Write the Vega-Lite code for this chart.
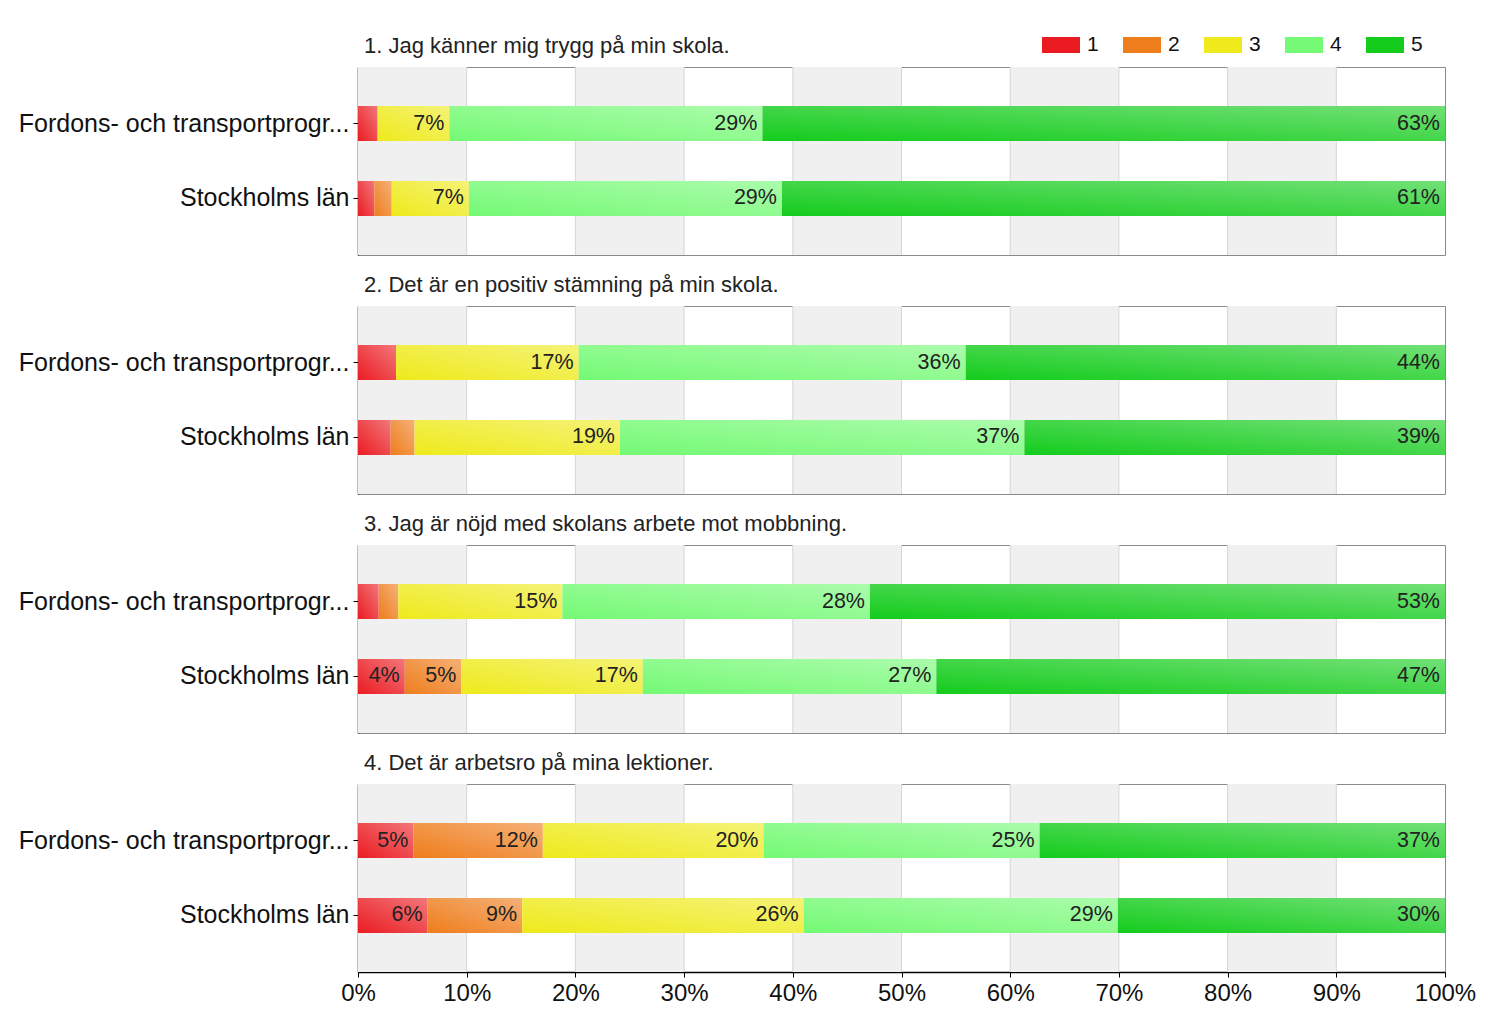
{
  "$schema": "https://vega.github.io/schema/vega-lite/v6.json",
  "padding": {"left": 17, "top": 26, "right": 0, "bottom": 0},
  "background": "white",
  "config": {
    "font": "Liberation Sans",
    "view": {"stroke": "#8a8a8a", "strokeWidth": 1},
    "concat": {"spacing": 17},
    "axis": {"grid": false, "domainColor": "#000", "tickColor": "#000", "labelColor": "#111", "title": null},
    "axisY": {"labelFontSize": 25, "tickSize": 5, "labelPadding": 4, "labelLimit": 500, "minExtent": 340, "maxExtent": 340, "domainWidth": 1.5},
    "axisX": {"labelFontSize": 24, "tickSize": 5, "labelPadding": 4, "domainWidth": 1.5, "format": ".0%", "labelFlush": false},
    "title": {"anchor": "start", "frame": "group", "fontSize": 22, "fontWeight": "normal", "color": "#222", "offset": 9, "dx": 6},
    "legend": {"orient": "none", "legendX": 684, "legendY": -41, "direction": "horizontal", "columns": 5, "symbolType": "M-1,-0.42H1V0.42H-1Z", "symbolSize": 1444, "symbolStrokeWidth": 0, "symbolOpacity": 1, "labelFontSize": 21, "labelColor": "#111", "labelOffset": 7, "columnPadding": 24, "title": null}
  },
  "datasets": {
    "bars": [
      {"q": 1, "group": "Fordons- och transportprogr...", "answer": "1", "value": 0.018},
      {"q": 1, "group": "Fordons- och transportprogr...", "answer": "2", "value": 0.0},
      {"q": 1, "group": "Fordons- och transportprogr...", "answer": "3", "value": 0.066},
      {"q": 1, "group": "Fordons- och transportprogr...", "answer": "4", "value": 0.288},
      {"q": 1, "group": "Fordons- och transportprogr...", "answer": "5", "value": 0.628},
      {"q": 1, "group": "Stockholms län", "answer": "1", "value": 0.015},
      {"q": 1, "group": "Stockholms län", "answer": "2", "value": 0.016},
      {"q": 1, "group": "Stockholms län", "answer": "3", "value": 0.071},
      {"q": 1, "group": "Stockholms län", "answer": "4", "value": 0.288},
      {"q": 1, "group": "Stockholms län", "answer": "5", "value": 0.61},
      {"q": 2, "group": "Fordons- och transportprogr...", "answer": "1", "value": 0.035},
      {"q": 2, "group": "Fordons- och transportprogr...", "answer": "2", "value": 0.0},
      {"q": 2, "group": "Fordons- och transportprogr...", "answer": "3", "value": 0.168},
      {"q": 2, "group": "Fordons- och transportprogr...", "answer": "4", "value": 0.356},
      {"q": 2, "group": "Fordons- och transportprogr...", "answer": "5", "value": 0.441},
      {"q": 2, "group": "Stockholms län", "answer": "1", "value": 0.03},
      {"q": 2, "group": "Stockholms län", "answer": "2", "value": 0.022},
      {"q": 2, "group": "Stockholms län", "answer": "3", "value": 0.189},
      {"q": 2, "group": "Stockholms län", "answer": "4", "value": 0.372},
      {"q": 2, "group": "Stockholms län", "answer": "5", "value": 0.387},
      {"q": 3, "group": "Fordons- och transportprogr...", "answer": "1", "value": 0.019},
      {"q": 3, "group": "Fordons- och transportprogr...", "answer": "2", "value": 0.018},
      {"q": 3, "group": "Fordons- och transportprogr...", "answer": "3", "value": 0.151},
      {"q": 3, "group": "Fordons- och transportprogr...", "answer": "4", "value": 0.283},
      {"q": 3, "group": "Fordons- och transportprogr...", "answer": "5", "value": 0.529},
      {"q": 3, "group": "Stockholms län", "answer": "1", "value": 0.043},
      {"q": 3, "group": "Stockholms län", "answer": "2", "value": 0.052},
      {"q": 3, "group": "Stockholms län", "answer": "3", "value": 0.167},
      {"q": 3, "group": "Stockholms län", "answer": "4", "value": 0.27},
      {"q": 3, "group": "Stockholms län", "answer": "5", "value": 0.468},
      {"q": 4, "group": "Fordons- och transportprogr...", "answer": "1", "value": 0.051},
      {"q": 4, "group": "Fordons- och transportprogr...", "answer": "2", "value": 0.119},
      {"q": 4, "group": "Fordons- och transportprogr...", "answer": "3", "value": 0.203},
      {"q": 4, "group": "Fordons- och transportprogr...", "answer": "4", "value": 0.254},
      {"q": 4, "group": "Fordons- och transportprogr...", "answer": "5", "value": 0.373},
      {"q": 4, "group": "Stockholms län", "answer": "1", "value": 0.064},
      {"q": 4, "group": "Stockholms län", "answer": "2", "value": 0.087},
      {"q": 4, "group": "Stockholms län", "answer": "3", "value": 0.259},
      {"q": 4, "group": "Stockholms län", "answer": "4", "value": 0.289},
      {"q": 4, "group": "Stockholms län", "answer": "5", "value": 0.301}
    ],
    "bands": [
      {"start": 0.0, "end": 0.1},
      {"start": 0.2, "end": 0.3},
      {"start": 0.4, "end": 0.5},
      {"start": 0.6, "end": 0.7},
      {"start": 0.8, "end": 0.9}
    ],
    "grid": [
      {"g": 0.1}, {"g": 0.2}, {"g": 0.3}, {"g": 0.4}, {"g": 0.5}, {"g": 0.6}, {"g": 0.7}, {"g": 0.8}, {"g": 0.9}
    ]
  },
  "vconcat": [
    {
      "width": 1087, "height": 188,
      "title": "1. Jag känner mig trygg på min skola.",
      "layer": [
        {"data": {"name": "bands"}, "mark": {"type": "rect", "color": "#f0f0f0"}, "encoding": {"x": {"field": "start", "type": "quantitative", "scale": {"domain": [0, 1], "nice": false}, "axis": null}, "x2": {"field": "end"}}},
        {"data": {"name": "grid"}, "mark": {"type": "rule", "color": "#d6d6d6", "strokeWidth": 1}, "encoding": {"x": {"field": "g", "type": "quantitative", "axis": null}}},
        {"data": {"name": "bars"}, "transform": [{"filter": "datum.q == 1"}], "mark": {"type": "bar"}, "encoding": {"y": {"field": "group", "type": "nominal", "sort": ["Fordons- och transportprogr...", "Stockholms län"], "scale": {"paddingInner": 0.533, "paddingOuter": 0.52}}, "x": {"field": "value", "type": "quantitative", "stack": "zero", "axis": null}, "color": {"field": "answer", "type": "nominal", "scale": {"domain": ["1", "2", "3", "4", "5"], "range": ["#ea1c22", "#ee7d1c", "#eeea1c", "#74fa74", "#14cc1c"]}}, "order": {"field": "answer"}}},
        {"data": {"name": "bars"}, "transform": [{"filter": "datum.q == 1"}], "mark": {"type": "bar", "color": {"gradient": "linear", "x1": 0, "y1": 1, "x2": 1, "y2": 0, "stops": [{"offset": 0, "color": "rgba(255,255,255,0)"}, {"offset": 1, "color": "rgba(255,255,255,0.4)"}]}}, "encoding": {"y": {"field": "group", "type": "nominal", "sort": ["Fordons- och transportprogr...", "Stockholms län"]}, "x": {"field": "value", "type": "quantitative", "stack": "zero", "axis": null}, "order": {"field": "answer"}, "detail": {"field": "answer"}}},
        {"data": {"name": "bars"}, "transform": [{"filter": "datum.q == 1"}], "mark": {"type": "text", "align": "right", "dx": -5, "fontSize": 21.5, "color": "#222", "baseline": "middle"}, "encoding": {"y": {"field": "group", "type": "nominal", "sort": ["Fordons- och transportprogr...", "Stockholms län"]}, "x": {"field": "value", "type": "quantitative", "stack": "zero", "axis": null}, "order": {"field": "answer"}, "detail": {"field": "answer"}, "text": {"condition": {"test": "datum.value >= 0.04", "field": "value", "format": ".0%"}, "value": ""}}}
      ]
    },
    {
      "width": 1087, "height": 188,
      "title": "2. Det är en positiv stämning på min skola.",
      "layer": [
        {"data": {"name": "bands"}, "mark": {"type": "rect", "color": "#f0f0f0"}, "encoding": {"x": {"field": "start", "type": "quantitative", "scale": {"domain": [0, 1], "nice": false}, "axis": null}, "x2": {"field": "end"}}},
        {"data": {"name": "grid"}, "mark": {"type": "rule", "color": "#d6d6d6", "strokeWidth": 1}, "encoding": {"x": {"field": "g", "type": "quantitative", "axis": null}}},
        {"data": {"name": "bars"}, "transform": [{"filter": "datum.q == 2"}], "mark": {"type": "bar"}, "encoding": {"y": {"field": "group", "type": "nominal", "sort": ["Fordons- och transportprogr...", "Stockholms län"], "scale": {"paddingInner": 0.533, "paddingOuter": 0.52}}, "x": {"field": "value", "type": "quantitative", "stack": "zero", "axis": null}, "color": {"field": "answer", "type": "nominal", "scale": {"domain": ["1", "2", "3", "4", "5"], "range": ["#ea1c22", "#ee7d1c", "#eeea1c", "#74fa74", "#14cc1c"]}}, "order": {"field": "answer"}}},
        {"data": {"name": "bars"}, "transform": [{"filter": "datum.q == 2"}], "mark": {"type": "bar", "color": {"gradient": "linear", "x1": 0, "y1": 1, "x2": 1, "y2": 0, "stops": [{"offset": 0, "color": "rgba(255,255,255,0)"}, {"offset": 1, "color": "rgba(255,255,255,0.4)"}]}}, "encoding": {"y": {"field": "group", "type": "nominal", "sort": ["Fordons- och transportprogr...", "Stockholms län"]}, "x": {"field": "value", "type": "quantitative", "stack": "zero", "axis": null}, "order": {"field": "answer"}, "detail": {"field": "answer"}}},
        {"data": {"name": "bars"}, "transform": [{"filter": "datum.q == 2"}], "mark": {"type": "text", "align": "right", "dx": -5, "fontSize": 21.5, "color": "#222", "baseline": "middle"}, "encoding": {"y": {"field": "group", "type": "nominal", "sort": ["Fordons- och transportprogr...", "Stockholms län"]}, "x": {"field": "value", "type": "quantitative", "stack": "zero", "axis": null}, "order": {"field": "answer"}, "detail": {"field": "answer"}, "text": {"condition": {"test": "datum.value >= 0.04", "field": "value", "format": ".0%"}, "value": ""}}}
      ]
    },
    {
      "width": 1087, "height": 188,
      "title": "3. Jag är nöjd med skolans arbete mot mobbning.",
      "layer": [
        {"data": {"name": "bands"}, "mark": {"type": "rect", "color": "#f0f0f0"}, "encoding": {"x": {"field": "start", "type": "quantitative", "scale": {"domain": [0, 1], "nice": false}, "axis": null}, "x2": {"field": "end"}}},
        {"data": {"name": "grid"}, "mark": {"type": "rule", "color": "#d6d6d6", "strokeWidth": 1}, "encoding": {"x": {"field": "g", "type": "quantitative", "axis": null}}},
        {"data": {"name": "bars"}, "transform": [{"filter": "datum.q == 3"}], "mark": {"type": "bar"}, "encoding": {"y": {"field": "group", "type": "nominal", "sort": ["Fordons- och transportprogr...", "Stockholms län"], "scale": {"paddingInner": 0.533, "paddingOuter": 0.52}}, "x": {"field": "value", "type": "quantitative", "stack": "zero", "axis": null}, "color": {"field": "answer", "type": "nominal", "scale": {"domain": ["1", "2", "3", "4", "5"], "range": ["#ea1c22", "#ee7d1c", "#eeea1c", "#74fa74", "#14cc1c"]}}, "order": {"field": "answer"}}},
        {"data": {"name": "bars"}, "transform": [{"filter": "datum.q == 3"}], "mark": {"type": "bar", "color": {"gradient": "linear", "x1": 0, "y1": 1, "x2": 1, "y2": 0, "stops": [{"offset": 0, "color": "rgba(255,255,255,0)"}, {"offset": 1, "color": "rgba(255,255,255,0.4)"}]}}, "encoding": {"y": {"field": "group", "type": "nominal", "sort": ["Fordons- och transportprogr...", "Stockholms län"]}, "x": {"field": "value", "type": "quantitative", "stack": "zero", "axis": null}, "order": {"field": "answer"}, "detail": {"field": "answer"}}},
        {"data": {"name": "bars"}, "transform": [{"filter": "datum.q == 3"}], "mark": {"type": "text", "align": "right", "dx": -5, "fontSize": 21.5, "color": "#222", "baseline": "middle"}, "encoding": {"y": {"field": "group", "type": "nominal", "sort": ["Fordons- och transportprogr...", "Stockholms län"]}, "x": {"field": "value", "type": "quantitative", "stack": "zero", "axis": null}, "order": {"field": "answer"}, "detail": {"field": "answer"}, "text": {"condition": {"test": "datum.value >= 0.04", "field": "value", "format": ".0%"}, "value": ""}}}
      ]
    },
    {
      "width": 1087, "height": 188,
      "title": "4. Det är arbetsro på mina lektioner.",
      "layer": [
        {"data": {"name": "bands"}, "mark": {"type": "rect", "color": "#f0f0f0"}, "encoding": {"x": {"field": "start", "type": "quantitative", "scale": {"domain": [0, 1], "nice": false}, "axis": {"values": [0, 0.1, 0.2, 0.3, 0.4, 0.5, 0.6, 0.7, 0.8, 0.9, 1], "format": ".0%"}}, "x2": {"field": "end"}}},
        {"data": {"name": "grid"}, "mark": {"type": "rule", "color": "#d6d6d6", "strokeWidth": 1}, "encoding": {"x": {"field": "g", "type": "quantitative", "axis": {"values": [0, 0.1, 0.2, 0.3, 0.4, 0.5, 0.6, 0.7, 0.8, 0.9, 1], "format": ".0%"}}}},
        {"data": {"name": "bars"}, "transform": [{"filter": "datum.q == 4"}], "mark": {"type": "bar"}, "encoding": {"y": {"field": "group", "type": "nominal", "sort": ["Fordons- och transportprogr...", "Stockholms län"], "scale": {"paddingInner": 0.533, "paddingOuter": 0.52}}, "x": {"field": "value", "type": "quantitative", "stack": "zero", "axis": {"values": [0, 0.1, 0.2, 0.3, 0.4, 0.5, 0.6, 0.7, 0.8, 0.9, 1], "format": ".0%"}}, "color": {"field": "answer", "type": "nominal", "scale": {"domain": ["1", "2", "3", "4", "5"], "range": ["#ea1c22", "#ee7d1c", "#eeea1c", "#74fa74", "#14cc1c"]}}, "order": {"field": "answer"}}},
        {"data": {"name": "bars"}, "transform": [{"filter": "datum.q == 4"}], "mark": {"type": "bar", "color": {"gradient": "linear", "x1": 0, "y1": 1, "x2": 1, "y2": 0, "stops": [{"offset": 0, "color": "rgba(255,255,255,0)"}, {"offset": 1, "color": "rgba(255,255,255,0.4)"}]}}, "encoding": {"y": {"field": "group", "type": "nominal", "sort": ["Fordons- och transportprogr...", "Stockholms län"]}, "x": {"field": "value", "type": "quantitative", "stack": "zero", "axis": {"values": [0, 0.1, 0.2, 0.3, 0.4, 0.5, 0.6, 0.7, 0.8, 0.9, 1], "format": ".0%"}}, "order": {"field": "answer"}, "detail": {"field": "answer"}}},
        {"data": {"name": "bars"}, "transform": [{"filter": "datum.q == 4"}], "mark": {"type": "text", "align": "right", "dx": -5, "fontSize": 21.5, "color": "#222", "baseline": "middle"}, "encoding": {"y": {"field": "group", "type": "nominal", "sort": ["Fordons- och transportprogr...", "Stockholms län"]}, "x": {"field": "value", "type": "quantitative", "stack": "zero", "axis": {"values": [0, 0.1, 0.2, 0.3, 0.4, 0.5, 0.6, 0.7, 0.8, 0.9, 1], "format": ".0%"}}, "order": {"field": "answer"}, "detail": {"field": "answer"}, "text": {"condition": {"test": "datum.value >= 0.04", "field": "value", "format": ".0%"}, "value": ""}}}
      ]
    }
  ],
  "resolve": {"scale": {"color": "shared"}}
}
